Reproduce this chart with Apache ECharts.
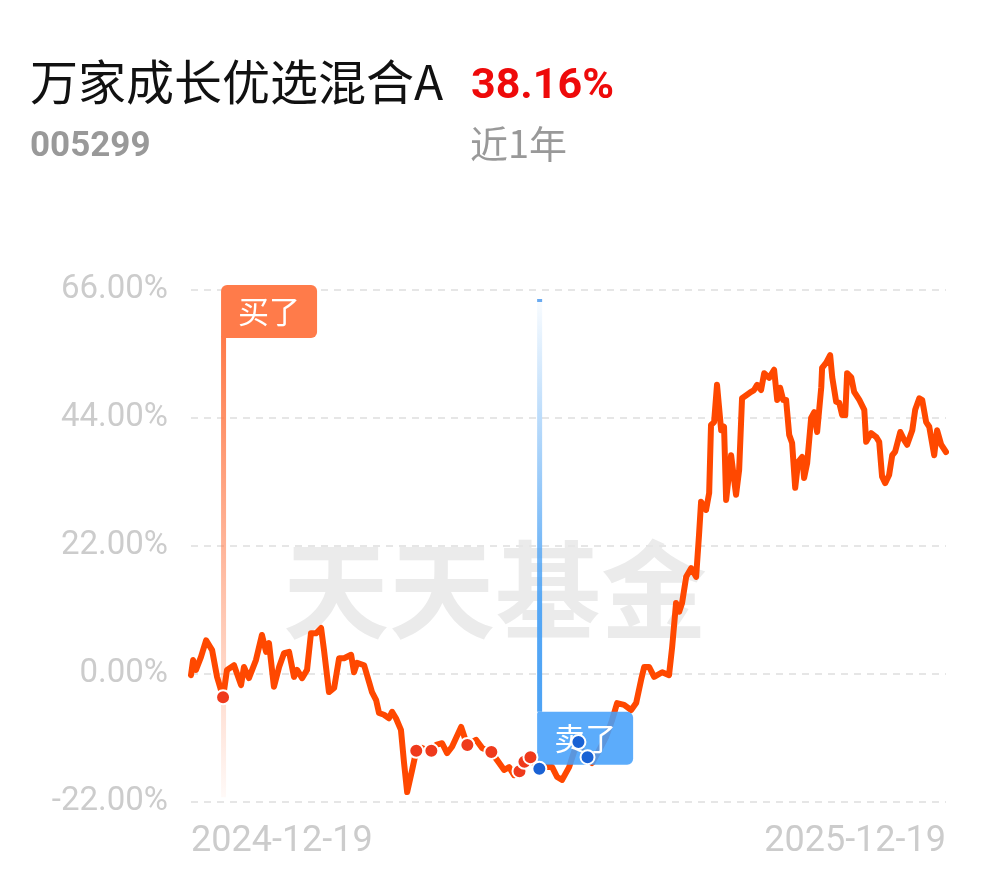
<!DOCTYPE html>
<html>
<head>
<meta charset="utf-8">
<style>
html,body{margin:0;padding:0;background:#fff;}
#chart{width:990px;height:878px;}
</style>
<script src="https://cdn.jsdelivr.net/npm/echarts@6/dist/echarts.min.js"></script>
</head>
<body>
<div id="chart"></div>
<script>
// ---- data ----
const fundName = '万家成长优选混合A';
const fundCode = '005299';
const periodReturn = '38.16%';
const periodLabel = '近1年';
const xTickLabels = ['2024-12-19', '2025-12-19'];
const yTicks = [-22, 0, 22, 44, 66];
// day offset from 2024-12-19
const days = [0,1.0,2.4,4.8,7.3,10.2,12.6,15.5,17.4,20.8,24.2,25.6,28.0,31.4,34.3,36.3,37.7,40.1,42.6,45.0,47.4,49.8,51.3,53.7,56.1,58.0,60.4,62.9,64.3,66.7,69.2,71.6,74.0,77.4,78.8,80.3,83.7,86.1,87.5,89.5,90.9,93.3,95.7,97.2,99.1,101.5,103.0,104.5,106.9,108.8,111.7,116.1,118.5,121.4,123.8,126.2,130.6,133.5,137.8,140.7,145.1,148.0,151.4,153.8,156.2,158.6,161.0,163.4,168.3,171.7,174.6,177.0,179.4,182.8,186.7,191.0,193.9,197.3,200.7,203.6,206.0,209.4,212.8,215.2,217.6,219.1,221.5,223.9,227.8,231.1,232.6,234.5,236.0,237.4,239.4,241.8,244.2,245.6,246.6,249.0,250.5,251.4,252.9,254.3,256.3,257.7,258.7,261.1,263.5,265.0,266.4,268.8,270.8,272.2,273.7,275.6,277.1,279.5,281.9,283.4,284.8,286.3,287.7,289.2,290.6,292.1,293.5,295.5,296.4,297.9,299.8,301.3,302.7,304.7,305.1,307.1,309.0,310.0,311.9,313.4,314.8,316.3,317.2,319.2,320.6,323.1,325.5,326.4,328.8,331.3,332.7,334.1,335.6,337.5,339.0,340.4,342.9,344.8,346.2,348.7,350.1,352.1,353.5,355.4,356.9,359.3,360.7,362.7,365];
const returns = [-0.2,2.4,0.7,2.9,5.8,4.1,-0.5,-4.0,0.7,1.5,-1.9,1.2,-0.7,2.4,6.7,3.8,5.3,-2.2,1.2,3.6,3.8,-0.5,0.7,-0.7,0.7,7.0,7.0,7.9,4.1,-3.1,-2.4,2.7,2.7,3.3,0.3,1.9,1.5,-1.4,-3.1,-4.5,-6.7,-7.0,-7.6,-6.5,-7.6,-9.6,-15.3,-20.3,-16.5,-13.4,-12.7,-13.4,-12.2,-11.9,-13.6,-12.5,-9.1,-12.2,-11.3,-12.7,-13.4,-14.8,-16.5,-16.0,-17.4,-17.0,-15.1,-14.3,-16.5,-16.0,-16.0,-17.7,-18.2,-16.0,-11.7,-14.3,-15.3,-13.1,-10.8,-7.9,-5.0,-5.3,-6.2,-5.0,-1.0,1.2,1.2,-0.5,0.3,-0.2,4.6,12.2,10.7,12.2,16.7,18.2,16.7,23.9,29.6,28.2,31.1,42.8,43.3,49.7,41.9,42.5,29.9,37.6,30.8,35.1,47.4,48.0,48.5,48.8,49.7,48.8,51.7,50.9,52.3,47.1,49.2,47.1,47.1,41.1,39.7,32.0,36.4,37.3,33.7,36.3,44.0,45.0,41.6,49.3,52.6,53.5,54.8,51.0,46.8,46.6,44.5,44.5,51.7,51.0,48.5,47.1,45.4,39.9,41.4,40.7,39.9,33.9,32.8,34.2,37.6,38.2,41.6,40.2,39.4,41.9,45.4,47.4,47.1,43.3,42.5,37.6,41.9,39.4,38.16];
const buyDotDays = [15.5,108.9,116.2,133.6,145.2,158.8,161.2,164.1];
const buyDotValues = [-4.0,-13.2,-13.2,-12.2,-13.4,-16.7,-15.1,-14.3];
const sellDotDays = [168.4,187.3,191.7];
const sellDotValues = [-16.3,-11.7,-14.3];
const markerDays = [15.5, 168.3];
const markerLabels = ['买了', '卖了'];

// ---- chart ----
const chart = echarts.init(document.getElementById('chart'));
const lineData = days.map((d, i) => [d, returns[i]]);
const CJK = '"Noto Sans CJK SC", "Noto Sans", sans-serif';

function grad(x0,y0,x1,y1,stops){ return new echarts.graphic.LinearGradient(x0,y0,x1,y1,stops); }

const option = {
  backgroundColor: '#ffffff',
  animation: false,
  grid: { left: 191, right: 44, top: 290, bottom: 76, containLabel: false },
  xAxis: {
    type: 'value', min: 0, max: 365, interval: 365,
    axisLine: { show: false }, axisTick: { show: false }, splitLine: { show: false },
    axisLabel: {
      margin: 22, color: '#cccccc', fontSize: 36, fontFamily: 'Roboto',
      alignMinLabel: 'left', alignMaxLabel: 'right',
      formatter: v => (v === 0 ? xTickLabels[0] : xTickLabels[1])
    }
  },
  yAxis: {
    type: 'value', min: yTicks[0], max: yTicks[yTicks.length - 1], interval: 22,
    axisLine: { show: false }, axisTick: { show: false },
    axisLabel: { margin: 23, color: '#cccccc', fontSize: 33, fontFamily: 'Roboto', formatter: v => v.toFixed(2) + '%' },
    splitLine: { show: true, lineStyle: { color: '#e6e6e6', width: 2, type: [7, 6] } }
  },
  graphic: [
    { type: 'text', left: 30, top: 58, z: 10, style: { text: fundName, font: 'normal 48px ' + CJK, fill: '#111111' } },
    { type: 'text', left: 471, top: 66, z: 10, style: { text: periodReturn, font: 'bold 43px Roboto', fill: '#ee0a0a' } },
    { type: 'text', left: 30, top: 130, z: 10, style: { text: fundCode, font: 'bold 35px Roboto', fill: '#999999' } },
    { type: 'text', left: 470, top: 125, z: 10, style: { text: periodLabel, font: 'normal 38px ' + CJK, fill: '#999999' } },
    { type: 'text', x: 495, y: 590, z: -10, style: { text: '天天基金', font: 'bold 106px ' + CJK, fill: '#ebebeb', align: 'center', verticalAlign: 'middle' } }
  ],
  series: [
    { // buy marker (behind line)
      type: 'custom', z: 1, silent: true,
      data: [[markerDays[0], 0]],
      renderItem: function (params, api) {
        const x = api.coord([api.value(0), 0])[0];
        const top = params.coordSys.y;
        const boxTop = top - 5, boxH = 53, boxW = 96;
        const lineBottom = api.coord([0, -21.2])[1];
        return {
          type: 'group',
          children: [
            { type: 'rect', shape: { x: x - 2, y: boxTop + boxH - 2, width: 5, height: lineBottom - (boxTop + boxH - 2) },
              style: { fill: grad(0, 0, 0, 1, [{ offset: 0, color: 'rgba(255,122,72,1)' }, { offset: 1, color: 'rgba(255,122,72,0.04)' }]) } },
            { type: 'rect', shape: { x: x - 2, y: boxTop, width: boxW, height: boxH, r: [6, 6, 6, 2] },
              style: { fill: '#ff7b4a' } },
            { type: 'text', x: x - 2 + boxW / 2, y: boxTop + boxH / 2,
              style: { text: markerLabels[0], font: 'normal 31px ' + CJK, fill: '#ffffff', align: 'center', verticalAlign: 'middle' } }
          ]
        };
      }
    },
    { // sell marker line (behind line)
      type: 'custom', z: 1, silent: true,
      data: [[markerDays[1], -6.5]],
      renderItem: function (params, api) {
        const x = api.coord([api.value(0), 0])[0];
        const top = params.coordSys.y + 9;
        const boxTop = api.coord([0, api.value(1)])[1];
        return {
          type: 'group',
          children: [
            { type: 'rect', shape: { x: x - 2, y: top, width: 5, height: 3 }, style: { fill: '#6aaaf0' } },
            { type: 'rect', shape: { x: x - 2, y: top + 3, width: 5, height: boxTop - top - 3 },
              style: { fill: grad(0, 0, 0, 1, [{ offset: 0, color: 'rgba(77,163,245,0.04)' }, { offset: 0.75, color: 'rgba(77,163,245,0.95)' }, { offset: 1, color: 'rgba(77,163,245,1)' }]) } }
          ]
        };
      }
    },
    {
      type: 'line', z: 2, data: lineData, showSymbol: false, smooth: false,
      lineStyle: { color: '#ff4800', width: 6, join: 'round', cap: 'round' }
    },
    { // sell box over line
      type: 'custom', z: 3, silent: true,
      data: [[markerDays[1], -6.5]],
      renderItem: function (params, api) {
        const x = api.coord([api.value(0), 0])[0];
        const boxTop = api.coord([0, api.value(1)])[1];
        const boxW = 96, boxH = 53;
        return {
          type: 'group',
          children: [
            { type: 'rect', shape: { x: x - 2, y: boxTop, width: boxW, height: boxH, r: [2, 6, 6, 6] },
              style: { fill: 'rgba(70,160,250,0.88)' } },
            { type: 'text', x: x - 2 + boxW / 2, y: boxTop + boxH / 2,
              style: { text: markerLabels[1], font: 'normal 31px ' + CJK, fill: '#ffffff', align: 'center', verticalAlign: 'middle' } }
          ]
        };
      }
    },
    {
      type: 'scatter', z: 4, symbolSize: 14,
      data: buyDotDays.map((d, i) => [d, buyDotValues[i]]),
      itemStyle: { color: '#ef3a1c', borderColor: '#ffffff', borderWidth: 2, opacity: 1 }
    },
    {
      type: 'scatter', z: 4, symbolSize: 14,
      data: sellDotDays.map((d, i) => [d, sellDotValues[i]]),
      itemStyle: { color: '#1a62d4', borderColor: '#ffffff', borderWidth: 2, opacity: 1 }
    }
  ]
};
chart.setOption(option);
</script>
</body>
</html>
